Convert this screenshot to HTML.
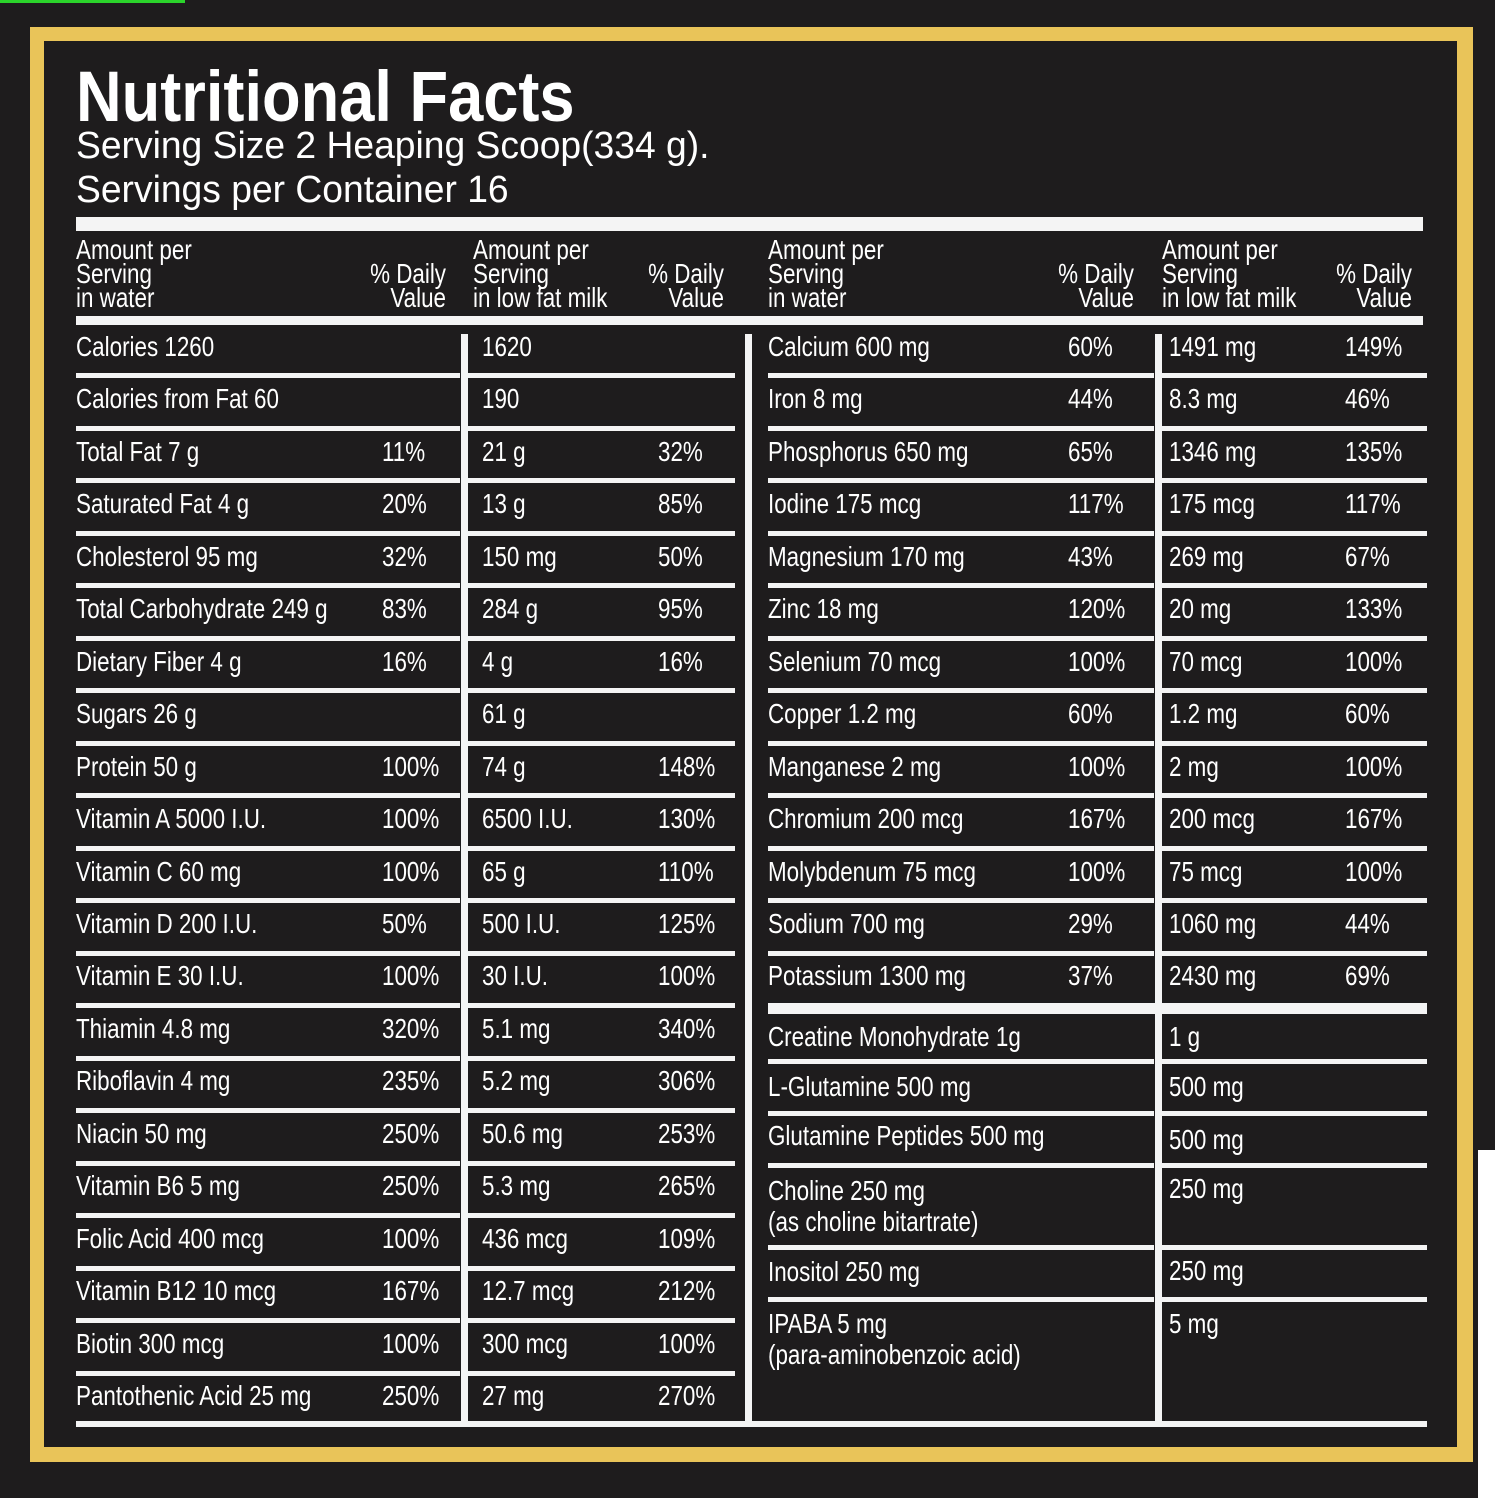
<!DOCTYPE html>
<html><head><meta charset="utf-8"><style>
body{margin:0;width:1495px;height:1498px;background:#1e1c1d;position:relative;overflow:hidden;font-family:"Liberation Sans",sans-serif;color:#fff}
.a{position:absolute}
.w{position:absolute;background:#f4f4f4}
.t{position:absolute;font-size:28px;line-height:32px;white-space:nowrap;transform:scaleX(.8);transform-origin:0 0}
.r{transform-origin:100% 0}
</style></head><body>
<div class="a" style="left:0;top:0;width:185px;height:3px;background:#2bd42b"></div>
<div class="a" style="left:1478px;top:1150px;width:17px;height:348px;background:#fff"></div>
<div class="a" style="left:30px;top:27px;width:1443px;height:1435px;background:#e9c459"></div>
<div class="a" style="left:44px;top:41px;width:1413px;height:1406px;background:#1e1c1d"></div>
<div class="a" style="left:76px;top:58px;font-size:71px;font-weight:bold;line-height:80px;white-space:nowrap;transform:scaleX(.89);transform-origin:0 0">Nutritional Facts</div>
<div class="a" style="left:76px;top:124px;font-size:38px;line-height:44px;white-space:nowrap;transform:scaleX(.98);transform-origin:0 0">Serving Size 2 Heaping Scoop(334 g).</div>
<div class="a" style="left:76px;top:168px;font-size:38px;line-height:44px;white-space:nowrap;transform:scaleX(.98);transform-origin:0 0">Servings per Container 16</div>
<div class="w" style="left:76px;top:217px;width:1347px;height:14px"></div>
<div class="w" style="left:76px;top:316px;width:1347px;height:9px"></div>
<div id="c"></div>
<script>
var c=document.getElementById('c'),h='';
function T(x,y,s){h+='<div class="t" style="left:'+x+'px;top:'+(y-17)+'px">'+s+'</div>';}
function L(x,y,w,ht){h+='<div class="w" style="left:'+x+'px;top:'+y+'px;width:'+w+'px;height:'+(ht||5)+'px"></div>';}
function R(xr,y,s){h+='<div class="t r" style="left:'+(xr-405)+'px;width:405px;text-align:right;top:'+(y-17)+'px">'+s+'</div>';}
[[76,'in water',446],[473,'in low fat milk',724],[768,'in water',1134],[1162,'in low fat milk',1412]].forEach(function(p){
T(p[0],251,'Amount per');T(p[0],275,'Serving');T(p[0],299,p[1]);R(p[2],275,'% Daily');R(p[2],299,'Value');});
var left=[['Calories 1260','','1620',''],['Calories from Fat 60','','190',''],['Total Fat 7 g','11%','21 g','32%'],['Saturated Fat 4 g','20%','13 g','85%'],['Cholesterol 95 mg','32%','150 mg','50%'],['Total Carbohydrate 249 g','83%','284 g','95%'],['Dietary Fiber 4 g','16%','4 g','16%'],['Sugars 26 g','','61 g',''],['Protein 50 g','100%','74 g','148%'],['Vitamin A 5000 I.U.','100%','6500 I.U.','130%'],['Vitamin C 60 mg','100%','65 g','110%'],['Vitamin D 200 I.U.','50%','500 I.U.','125%'],['Vitamin E 30 I.U.','100%','30 I.U.','100%'],['Thiamin 4.8 mg','320%','5.1 mg','340%'],['Riboflavin 4 mg','235%','5.2 mg','306%'],['Niacin 50 mg','250%','50.6 mg','253%'],['Vitamin B6 5 mg','250%','5.3 mg','265%'],['Folic Acid 400 mcg','100%','436 mcg','109%'],['Vitamin B12 10 mcg','167%','12.7 mcg','212%'],['Biotin 300 mcg','100%','300 mcg','100%'],['Pantothenic Acid 25 mg','250%','27 mg','270%']];
var right=[['Calcium 600 mg','60%','1491 mg','149%'],['Iron 8 mg','44%','8.3 mg','46%'],['Phosphorus 650 mg','65%','1346 mg','135%'],['Iodine 175 mcg','117%','175 mcg','117%'],['Magnesium 170 mg','43%','269 mg','67%'],['Zinc 18 mg','120%','20 mg','133%'],['Selenium 70 mcg','100%','70 mcg','100%'],['Copper 1.2 mg','60%','1.2 mg','60%'],['Manganese 2 mg','100%','2 mg','100%'],['Chromium 200 mcg','167%','200 mcg','167%'],['Molybdenum 75 mcg','100%','75 mcg','100%'],['Sodium 700 mg','29%','1060 mg','44%'],['Potassium 1300 mg','37%','2430 mg','69%']];
for(var i=0;i<21;i++){var y=348+52.45*i,r=left[i];T(76,y,r[0]);T(382,y,r[1]);T(482,y,r[2]);T(658,y,r[3]);
 if(i<20){L(76,Math.round(373+52.5*i),384);L(468,Math.round(373+52.5*i),267);}}
for(i=0;i<13;i++){var y=348+52.45*i,r=right[i];T(768,y,r[0]);T(1068,y,r[1]);T(1169,y,r[2]);T(1345,y,r[3]);
 if(i<12){L(768,Math.round(373+52.5*i),386);L(1162,Math.round(373+52.5*i),265);}}
L(768,1003,659,11);
[[1038,'Creatine Monohydrate 1g','1 g',1038],[1088,'L-Glutamine 500 mg','500 mg',1088],[1137,'Glutamine Peptides 500 mg','500 mg',1141],[1192,'Choline 250 mg','250 mg',1190],[1273,'Inositol 250 mg','250 mg',1272],[1325,'IPABA 5 mg','5 mg',1325]].forEach(function(r){T(768,r[0],r[1]);T(1169,r[3],r[2]);});
T(768,1223,'(as choline bitartrate)');T(768,1356,'(para-aminobenzoic acid)');
[1059,1111,1163,1245,1297].forEach(function(y){L(768,y,386);L(1162,y,265);});
L(76,1421,1351,6);
L(461,334,7,1088);L(745,334,7,1088);L(1155,334,7,1088);
c.innerHTML=h;
</script>
</body></html>
